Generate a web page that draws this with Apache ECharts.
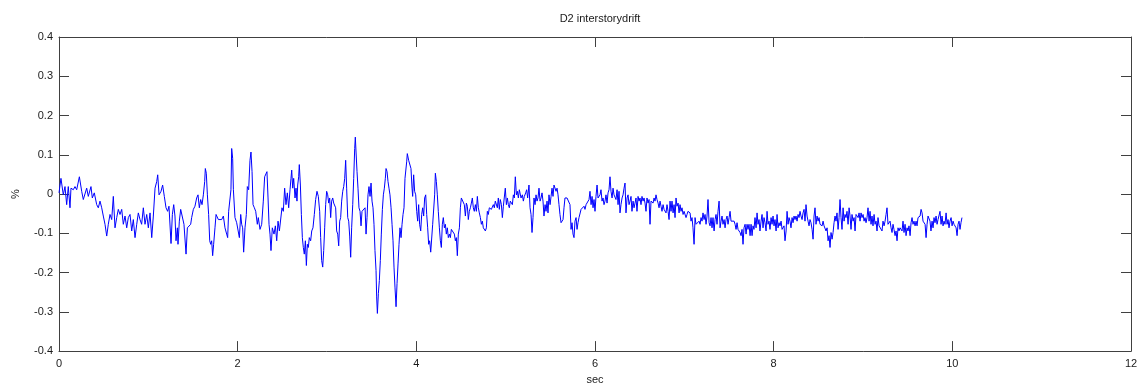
<!DOCTYPE html>
<html>
<head>
<meta charset="utf-8">
<title>D2 interstorydrift</title>
<script src="https://cdn.jsdelivr.net/npm/echarts@6/dist/echarts.min.js"></script>
<style>
  html, body { margin: 0; padding: 0; background: #ffffff; }
  #chart { width: 1146px; height: 390px; }
</style>
</head>
<body>
<div id="chart"></div>
<script>
// Chart text
const chartTitle = 'D2 interstorydrift';
const xAxisName = 'sec';
const yAxisName = '%';

// Axis ranges and tick spacing
const xRange = [0, 12];
const xStep = 2;
const yRange = [-0.4, 0.4];
const yStep = 0.1;

// Interstory drift record: [time (sec), drift (%)]
const drift = [
[0.000,0.003],[0.022,0.040],[0.048,-0.002],[0.067,0.019],[0.086,-0.027],[0.104,0.019],[0.123,-0.035],[0.134,0.015],
[0.160,0.011],[0.179,0.019],[0.198,0.011],[0.228,0.044],[0.254,0.007],[0.272,-0.014],[0.310,0.015],[0.328,-0.006],
[0.358,0.019],[0.373,-0.010],[0.395,0.003],[0.422,-0.027],[0.440,-0.035],[0.459,-0.018],[0.478,-0.035],[0.496,-0.056],
[0.515,-0.077],[0.534,-0.107],[0.552,-0.077],[0.571,-0.052],[0.590,-0.065],[0.608,-0.006],[0.627,-0.086],[0.646,-0.060],
[0.664,-0.039],[0.683,-0.052],[0.702,-0.039],[0.720,-0.077],[0.739,-0.056],[0.758,-0.086],[0.776,-0.060],[0.795,-0.052],
[0.814,-0.094],[0.832,-0.065],[0.851,-0.111],[0.870,-0.077],[0.888,-0.048],[0.907,-0.065],[0.925,-0.077],[0.944,-0.035],
[0.963,-0.077],[0.982,-0.052],[1.000,-0.086],[1.019,-0.048],[1.038,-0.111],[1.056,-0.056],[1.075,0.015],[1.094,0.032],
[1.105,0.049],[1.120,-0.002],[1.142,0.007],[1.160,0.023],[1.179,-0.006],[1.198,-0.035],[1.216,-0.044],[1.231,-0.031],
[1.254,-0.126],[1.269,-0.052],[1.284,-0.027],[1.298,-0.056],
[1.310,-0.119],[1.325,-0.086],[1.332,-0.128],[1.347,-0.069],[1.362,-0.039],[1.373,-0.039],[1.384,-0.044],[1.399,-0.077],
[1.411,-0.081],[1.422,-0.153],[1.437,-0.086],[1.448,-0.081],[1.459,-0.086],[1.474,-0.077],[1.485,-0.060],[1.504,-0.039],
[1.522,-0.031],[1.541,-0.010],[1.556,-0.002],[1.571,-0.035],[1.586,-0.014],[1.601,-0.027],[1.616,-0.002],[1.631,0.032],
[1.638,0.065],[1.649,0.053],[1.661,-0.002],[1.675,-0.052],[1.687,-0.119],[1.698,-0.128],[1.709,-0.119],[1.720,-0.157],
[1.731,-0.128],[1.746,-0.086],[1.758,-0.052],[1.772,-0.048],[1.784,-0.065],[1.802,-0.060],[1.821,-0.065],[1.840,-0.056],
[1.858,-0.086],[1.877,-0.102],[1.888,-0.111],[1.899,-0.044],[1.914,-0.039],[1.925,0.011],[1.933,0.116],[1.944,0.091],
[1.952,0.011],[1.970,-0.060],[1.989,-0.073],[2.008,-0.077],[2.019,-0.111],[2.034,-0.052],[2.045,-0.077],[2.056,-0.086],
[2.067,-0.148],[2.082,-0.086],[2.097,-0.052],[2.108,0.019],[2.123,0.011],[2.138,0.086],[2.149,0.107],[2.161,0.057],
[2.172,-0.027],[2.187,-0.035],[2.202,-0.044],[2.220,-0.077],[2.231,-0.060],[2.250,-0.090],[2.269,-0.077],[2.287,-0.018],
[2.302,0.044],[2.317,0.049],[2.328,0.057],[2.340,-0.010],[2.351,-0.077],[2.362,-0.102],[2.373,-0.144],[2.388,-0.086],
[2.407,-0.102],[2.422,-0.081],[2.437,-0.119],[2.452,-0.069],[2.467,-0.094],[2.481,-0.090],[2.496,-0.035],[2.511,-0.044],
[2.526,0.015],[2.541,-0.027],[2.556,0.003],[2.571,-0.035],[2.586,0.011],
[2.597,0.040],[2.605,0.061],[2.616,0.015],[2.627,0.040],[2.642,-0.010],[2.653,0.015],[2.664,-0.018],[2.672,0.023],
[2.683,0.044],[2.690,0.075],[2.702,0.023],[2.713,-0.052],[2.724,-0.111],[2.735,-0.136],[2.746,-0.153],[2.758,-0.119],
[2.769,-0.182],[2.780,-0.128],[2.791,-0.136],[2.802,-0.111],[2.817,-0.119],[2.829,-0.094],[2.843,-0.086],[2.858,-0.052],
[2.873,-0.014],[2.888,0.007],[2.903,-0.006],[2.918,-0.044],[2.929,-0.111],[2.940,-0.169],[2.952,-0.186],[2.963,-0.144],
[2.974,-0.086],[2.985,-0.027],[2.996,0.007],[3.008,-0.002],[3.019,-0.023],[3.030,-0.010],[3.041,-0.060],[3.052,-0.018],
[3.064,-0.010],[3.075,-0.023],[3.086,-0.027],[3.097,-0.035],[3.108,-0.094],[3.120,-0.102],[3.131,-0.132],[3.142,-0.069],
[3.153,-0.060],[3.164,-0.018],[3.176,0.007],[3.187,0.019],[3.198,0.040],[3.209,0.086],[3.220,0.015],[3.232,-0.060],
[3.243,-0.069],[3.254,-0.107],[3.265,-0.161],[3.276,-0.086],[3.288,-0.027],[3.299,0.040],[3.310,0.116],[3.317,0.145],
[3.325,0.107],[3.336,0.057],[3.347,0.015],[3.358,-0.035],[3.370,-0.044],[3.381,-0.081],[3.392,-0.044],[3.403,-0.039],
[3.414,-0.048],[3.426,-0.035],[3.437,-0.102],[3.448,-0.060],[3.459,-0.002],[3.470,0.019],[3.482,-0.006],[3.493,0.028],
[3.504,-0.018],[3.515,-0.035],[3.526,-0.077],[3.537,-0.144],[3.549,-0.195],[3.556,-0.262],[3.564,-0.304],[3.575,-0.253],
[3.586,-0.220],[3.597,-0.169],[3.608,-0.102],[3.620,-0.039],[3.631,-0.002],[3.642,0.015],[3.653,0.040],[3.661,0.065],
[3.672,0.057],[3.683,0.032],[3.694,0.015],[3.705,-0.002],[3.717,-0.035],[3.728,-0.077],[3.739,-0.119],[3.750,-0.186],
[3.761,-0.237],[3.773,-0.287],[3.784,-0.228],[3.795,-0.178],[3.806,-0.128],[3.817,-0.086],[3.829,-0.111],[3.840,-0.077],
[3.851,-0.052],[3.862,-0.035],[3.873,0.040],
[3.884,0.040],[3.892,0.082],[3.899,0.103],[3.914,0.086],[3.929,0.091],[3.940,0.065],[3.952,0.015],[3.959,-0.006],
[3.970,0.049],[3.981,0.007],[3.993,-0.002],[4.004,-0.044],[4.015,-0.069],[4.026,-0.027],[4.037,-0.077],[4.049,-0.094],
[4.060,-0.052],[4.071,-0.035],[4.082,-0.056],[4.093,-0.010],[4.105,-0.002],[4.116,-0.052],[4.127,-0.086],[4.138,-0.128],
[4.149,-0.119],[4.161,-0.148],[4.172,-0.153],[4.183,-0.077],[4.194,-0.077],[4.205,-0.002],[4.213,0.053],[4.224,0.032],
[4.235,-0.002],[4.246,-0.044],[4.258,-0.086],[4.269,-0.119],[4.280,-0.136],[4.291,-0.077],[4.302,-0.060],[4.314,-0.086],
[4.325,-0.077],[4.336,-0.102],[4.347,-0.086],[4.358,-0.111],[4.370,-0.102],[4.381,-0.111],[4.392,-0.090],[4.403,-0.086],
[4.414,-0.086],[4.426,-0.102],[4.437,-0.119],[4.448,-0.111],[4.459,-0.157],[4.470,-0.102],[4.482,-0.086],[4.493,-0.035],
[4.504,-0.010],[4.515,-0.014],[4.526,-0.006],[4.537,-0.027],[4.549,-0.056],[4.560,-0.023],[4.571,-0.031],[4.582,-0.065],
[4.593,-0.044],[4.605,-0.035],[4.616,-0.023],[4.627,-0.010],[4.638,-0.035],[4.649,-0.044],[4.661,-0.027],[4.672,-0.044],
[4.683,-0.006],[4.694,-0.035],[4.705,-0.048],[4.717,-0.060],[4.728,-0.077],[4.739,-0.069],[4.750,-0.086],[4.761,-0.081],
[4.773,-0.094],[4.784,-0.086],[4.795,-0.044],[4.806,-0.052],[4.817,-0.035],[4.828,-0.039],[4.840,-0.039],[4.851,-0.044],
[4.862,-0.027],[4.873,-0.035],[4.884,-0.018],[4.896,-0.014],[4.907,-0.035],[4.918,-0.010],[4.929,-0.039],[4.940,-0.014],
[4.952,-0.027],[4.963,-0.060],[4.974,-0.031],[4.985,-0.027],[4.996,0.015],[5.008,-0.027],[5.019,-0.010],[5.030,-0.027],
[5.041,-0.035],[5.052,-0.018],[5.064,-0.023],[5.075,-0.027],[5.086,-0.002],[5.097,-0.010],[5.108,0.044],[5.120,-0.002],
[5.131,0.007],[5.142,-0.010],[5.153,0.011],
[5.172,-0.010],[5.187,-0.002],[5.198,-0.018],[5.209,-0.006],[5.224,0.003],[5.235,0.011],[5.246,-0.010],[5.261,0.023],
[5.273,-0.035],[5.284,-0.052],[5.295,-0.098],[5.306,-0.060],[5.317,-0.010],[5.329,-0.027],[5.340,-0.002],[5.351,-0.018],
[5.362,-0.010],[5.373,0.015],[5.385,-0.018],[5.396,-0.010],[5.407,0.003],[5.418,-0.018],[5.429,-0.056],[5.441,-0.027],
[5.452,-0.044],[5.463,-0.018],[5.474,-0.048],[5.485,-0.002],[5.497,-0.027],[5.508,-0.006],[5.519,0.015],[5.530,-0.006],
[5.541,0.023],[5.553,0.028],[5.564,0.007],[5.575,0.015],[5.586,-0.002],[5.597,-0.027],[5.608,-0.052],[5.620,-0.073],
[5.631,-0.077],[5.642,-0.065],[5.653,-0.035],[5.664,-0.010],[5.676,-0.006],[5.687,-0.010],[5.698,-0.006],[5.709,-0.010],
[5.720,-0.027],[5.732,-0.090],[5.743,-0.073],[5.754,-0.102],[5.765,-0.111],[5.776,-0.069],[5.788,-0.060],[5.799,-0.090],
[5.810,-0.073],[5.821,-0.060],[5.832,-0.056],[5.844,-0.039],[5.855,-0.044],[5.866,-0.035],[5.877,-0.031],[5.888,-0.039],
[5.900,-0.027],[5.911,-0.031],[5.922,-0.023],[5.933,-0.014],[5.944,0.007],[5.956,-0.027],[5.967,-0.006],[5.978,-0.035],
[5.989,-0.014],[6.000,-0.044],[6.011,-0.006],[6.023,0.023],[6.034,-0.010],[6.045,-0.006],[6.056,-0.002],[6.067,0.011],
[6.079,-0.018],[6.090,-0.010],[6.101,-0.027],[6.112,-0.018],[6.123,-0.002],[6.135,-0.023],[6.146,0.003],[6.157,0.011],
[6.168,0.044],[6.179,0.007],[6.191,-0.010],[6.202,0.015],[6.213,-0.002],[6.224,0.003],[6.235,-0.014],[6.247,0.011],
[6.258,-0.027],[6.269,0.007],[6.280,-0.048],[6.291,-0.027],[6.303,-0.010],[6.314,-0.002],[6.325,0.015],[6.336,0.028],
[6.347,-0.048],[6.359,-0.010],[6.370,-0.002],[6.381,-0.027],[6.392,-0.018],[6.403,-0.006],[6.414,-0.044],[6.426,-0.018],
[6.437,-0.035],[6.448,-0.023],
[6.459,-0.010],[6.470,-0.044],[6.482,-0.006],[6.493,-0.018],[6.504,-0.010],[6.515,-0.027],[6.526,-0.006],[6.538,-0.018],
[6.549,-0.010],[6.560,-0.023],[6.571,-0.044],[6.582,-0.010],[6.594,-0.023],[6.605,-0.014],[6.616,-0.077],[6.627,-0.018],
[6.638,-0.014],[6.650,-0.023],[6.661,-0.010],[6.672,-0.018],[6.683,-0.002],[6.694,-0.014],[6.706,-0.023],[6.717,-0.035],
[6.728,-0.018],[6.739,-0.031],[6.750,-0.044],[6.762,-0.027],[6.773,-0.039],[6.784,-0.035],[6.795,-0.048],[6.806,-0.027],
[6.818,-0.044],[6.829,-0.065],[6.840,-0.018],[6.851,-0.044],[6.862,-0.018],[6.874,-0.048],[6.885,-0.027],[6.896,-0.060],
[6.907,-0.010],[6.918,-0.031],[6.930,-0.023],[6.941,-0.048],[6.952,-0.027],[6.963,-0.044],[6.974,-0.035],[6.986,-0.052],
[6.997,-0.044],[7.008,-0.039],[7.019,-0.060],[7.030,-0.052],[7.041,-0.044],[7.053,-0.048],[7.064,-0.048],[7.075,-0.069],
[7.086,-0.060],[7.097,-0.086],[7.109,-0.128],[7.120,-0.060],[7.131,-0.077],[7.142,-0.073],[7.153,-0.077],[7.165,-0.069],
[7.176,-0.077],[7.187,-0.060],[7.198,-0.069],[7.209,-0.048],[7.221,-0.065],[7.232,-0.052],[7.243,-0.077],[7.254,-0.056],
[7.265,-0.014],[7.277,-0.073],[7.288,-0.081],[7.299,-0.060],[7.310,-0.086],[7.321,-0.060],[7.333,-0.094],[7.344,-0.065],
[7.355,-0.052],[7.366,-0.077],[7.377,-0.044],[7.389,-0.018],[7.400,-0.086],[7.411,-0.069],[7.422,-0.056],[7.433,-0.077],
[7.445,-0.065],[7.456,-0.086],[7.467,-0.065],[7.478,-0.056],[7.489,-0.077],[7.501,-0.060],[7.512,-0.044],[7.523,-0.069],
[7.534,-0.065],[7.545,-0.073],[7.557,-0.069],[7.568,-0.077],[7.579,-0.090],[7.590,-0.073],[7.601,-0.090],[7.612,-0.086],
[7.624,-0.098],[7.635,-0.106],[7.646,-0.090],[7.657,-0.128],[7.668,-0.086],[7.680,-0.077],[7.691,-0.102],[7.702,-0.077],
[7.713,-0.090],[7.724,-0.077],[7.736,-0.106],
[7.747,-0.077],[7.758,-0.106],[7.769,-0.081],[7.780,-0.090],[7.791,-0.060],[7.803,-0.086],[7.814,-0.048],[7.825,-0.077],
[7.836,-0.065],[7.847,-0.094],[7.859,-0.069],[7.870,-0.052],[7.881,-0.086],[7.892,-0.060],[7.903,-0.073],[7.915,-0.094],
[7.926,-0.044],[7.937,-0.077],[7.948,-0.069],[7.959,-0.090],[7.971,-0.060],[7.982,-0.077],[7.993,-0.056],[8.004,-0.081],
[8.015,-0.065],[8.027,-0.094],[8.038,-0.052],[8.049,-0.086],[8.060,-0.073],[8.071,-0.081],[8.083,-0.069],[8.094,-0.090],
[8.105,-0.094],[8.116,-0.081],[8.127,-0.119],[8.139,-0.094],[8.150,-0.044],[8.161,-0.077],[8.172,-0.060],[8.183,-0.069],
[8.194,-0.086],[8.206,-0.060],[8.217,-0.073],[8.228,-0.056],[8.239,-0.065],[8.250,-0.056],[8.262,-0.069],[8.273,-0.052],
[8.284,-0.060],[8.295,-0.044],[8.306,-0.056],[8.318,-0.065],[8.329,-0.048],[8.340,-0.039],[8.351,-0.069],[8.362,-0.027],
[8.374,-0.056],[8.385,-0.069],[8.396,-0.081],[8.407,-0.065],[8.418,-0.073],[8.430,-0.090],[8.441,-0.115],[8.452,-0.056],
[8.463,-0.035],[8.474,-0.077],[8.486,-0.056],[8.497,-0.069],[8.508,-0.060],[8.519,-0.077],[8.530,-0.073],[8.542,-0.081],
[8.553,-0.069],[8.564,-0.081],[8.575,-0.077],[8.586,-0.094],[8.598,-0.086],[8.609,-0.119],[8.620,-0.106],[8.631,-0.136],
[8.642,-0.098],[8.654,-0.115],[8.665,-0.098],[8.676,-0.073],[8.687,-0.056],[8.698,-0.069],[8.709,-0.048],[8.721,-0.090],
[8.732,-0.060],[8.743,-0.014],[8.754,-0.060],[8.765,-0.090],[8.777,-0.035],[8.788,-0.069],[8.799,-0.052],[8.810,-0.060],
[8.821,-0.044],[8.833,-0.077],[8.844,-0.035],[8.855,-0.056],[8.866,-0.090],[8.877,-0.052],[8.889,-0.069],[8.900,-0.060],
[8.911,-0.094],[8.922,-0.052],[8.933,-0.048],[8.945,-0.060],[8.956,-0.048],[8.967,-0.069],[8.978,-0.048],[8.989,-0.060],
[9.001,-0.052],[9.012,-0.069],[9.023,-0.060],
[9.034,-0.073],[9.045,-0.060],[9.056,-0.035],[9.068,-0.069],[9.079,-0.044],[9.090,-0.077],[9.101,-0.056],[9.112,-0.081],
[9.124,-0.052],[9.135,-0.077],[9.146,-0.069],[9.157,-0.094],[9.168,-0.060],[9.180,-0.081],[9.191,-0.086],[9.202,-0.077],
[9.213,-0.094],[9.224,-0.069],[9.236,-0.081],[9.247,-0.069],[9.258,-0.052],[9.269,-0.035],[9.280,-0.077],[9.292,-0.081],
[9.303,-0.069],[9.314,-0.086],[9.325,-0.098],[9.336,-0.077],[9.347,-0.090],[9.359,-0.106],[9.370,-0.094],[9.381,-0.119],
[9.392,-0.086],[9.403,-0.094],[9.415,-0.086],[9.426,-0.081],[9.437,-0.094],[9.448,-0.069],[9.459,-0.098],[9.471,-0.077],
[9.482,-0.106],[9.493,-0.086],[9.504,-0.094],[9.515,-0.081],[9.527,-0.106],[9.538,-0.073],[9.549,-0.060],[9.560,-0.077],
[9.571,-0.069],[9.583,-0.081],[9.594,-0.069],[9.605,-0.081],[9.616,-0.060],[9.627,-0.065],[9.639,-0.056],[9.650,-0.039],
[9.661,-0.048],[9.672,-0.069],[9.683,-0.065],[9.695,-0.077],[9.706,-0.111],[9.717,-0.077],[9.728,-0.056],[9.739,-0.060],
[9.750,-0.069],[9.761,-0.094],[9.773,-0.069],[9.784,-0.086],[9.795,-0.060],[9.806,-0.073],[9.818,-0.056],[9.829,-0.077],
[9.840,-0.065],[9.851,-0.069],[9.862,-0.044],[9.874,-0.077],[9.885,-0.056],[9.896,-0.081],[9.907,-0.069],[9.918,-0.077],
[9.930,-0.048],[9.941,-0.077],[9.952,-0.065],[9.963,-0.086],[9.974,-0.069],[9.986,-0.060],[9.997,-0.081],[10.008,-0.069],
[10.019,-0.077],[10.030,-0.073],[10.042,-0.086],[10.053,-0.106],[10.064,-0.077],[10.075,-0.069],[10.086,-0.090],[10.097,-0.073],
[10.108,-0.060]
];

const axisColor = '#404040';
const textColor = '#1a1a1a';
const fontFamily = '"Liberation Sans", Arial, Helvetica, sans-serif';

const chart = echarts.init(document.getElementById('chart'), null, { renderer: 'canvas' });

// Frame axes: bottom/left carry labels; top/right mirror the inward ticks to close the box.
function frameAxis(extra) {
  return Object.assign({
    type: 'value',
    axisLine: { show: true, onZero: false, lineStyle: { color: axisColor, width: 1 } },
    axisTick: { show: true, inside: true, length: 10, lineStyle: { color: axisColor, width: 1 } },
    splitLine: { show: false },
    axisLabel: { show: true, color: textColor, fontFamily: fontFamily, fontSize: 11 }
  }, extra);
}

chart.setOption({
  animation: false,
  backgroundColor: '#ffffff',
  title: {
    text: chartTitle,
    left: 595,
    top: 8,
    textAlign: 'center',
    textStyle: { color: textColor, fontFamily: fontFamily, fontSize: 11, fontWeight: 'normal' }
  },
  grid: { left: 59, right: 15, top: 37, bottom: 35, containLabel: false },
  xAxis: [
    frameAxis({
      position: 'bottom', min: xRange[0], max: xRange[1], interval: xStep,
      name: xAxisName, nameLocation: 'middle', nameGap: 22,
      nameTextStyle: { color: textColor, fontFamily: fontFamily, fontSize: 11 },
      axisLabel: { show: true, color: textColor, fontFamily: fontFamily, fontSize: 11, margin: 7 }
    }),
    frameAxis({
      position: 'top', min: xRange[0], max: xRange[1], interval: xStep,
      axisLabel: { show: false }
    })
  ],
  yAxis: [
    frameAxis({
      position: 'left', min: yRange[0], max: yRange[1], interval: yStep,
      name: yAxisName, nameLocation: 'middle', nameGap: 38,
      nameTextStyle: { color: textColor, fontFamily: fontFamily, fontSize: 11 },
      axisLabel: {
        show: true, color: textColor, fontFamily: fontFamily, fontSize: 11, margin: 6,
        formatter: function (v) { return String(Math.round(v * 10) / 10); }
      }
    }),
    frameAxis({
      position: 'right', min: yRange[0], max: yRange[1], interval: yStep,
      axisLabel: { show: false }
    })
  ],
  series: [{
    type: 'line',
    xAxisIndex: 0,
    yAxisIndex: 0,
    data: drift,
    showSymbol: false,
    symbol: 'none',
    sampling: false,
    smooth: false,
    lineStyle: { color: '#0000ff', width: 1 },
    emphasis: { disabled: true }
  }]
});
</script>
</body>
</html>
